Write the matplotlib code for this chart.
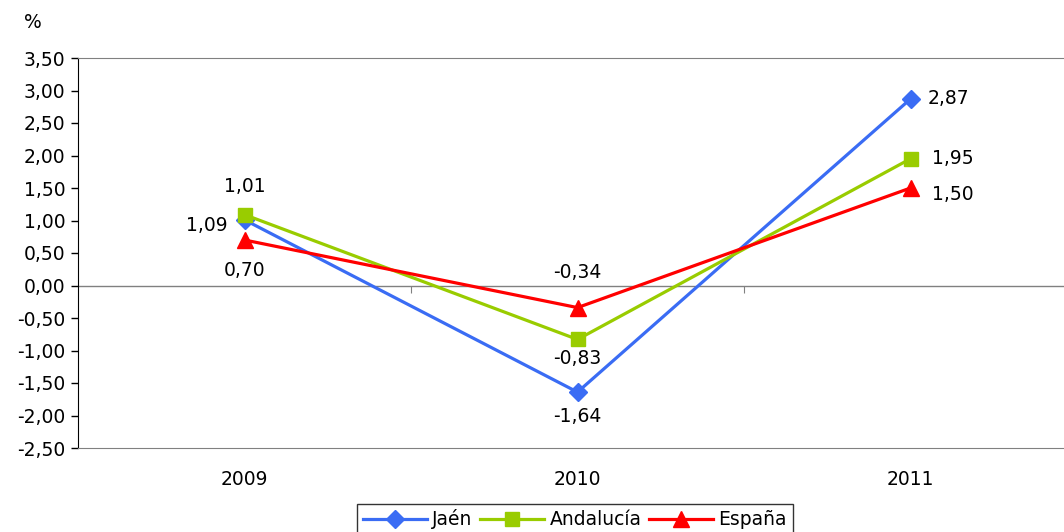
import matplotlib.pyplot as plt
from matplotlib.ticker import FuncFormatter

# Data
years = ["2009", "2010", "2011"]
jaen = [1.01, -1.64, 2.87]
andalucia = [1.09, -0.83, 1.95]
espana = [0.70, -0.34, 1.50]

# label offsets in pixels (dx, dy), tuned to the reference
jaen_off = [(0, 33), (0, -24), (38, 0)]
anda_off = [(-38, -11), (0, -19), (42, 0)]
esp_off = [(0, -30), (0, 35), (42, -6)]

plt.rcParams['font.family'] = ['DejaVu Sans']
FS = 13.5

fig = plt.figure(figsize=(10.64, 5.32), dpi=100)
ax = fig.add_axes([78 / 1064, 1 - 448 / 532, 999 / 1064, 390 / 532])

x = range(len(years))
series = [
    ("Jaén", jaen, "#3a6cf4", "D", 9, jaen_off),
    ("Andalucía", andalucia, "#99cc00", "s", 10, anda_off),
    ("España", espana, "#ff0000", "^", 11, esp_off),
]

for name, vals, col, mk, ms, offs in series:
    ax.plot(x, vals, color=col, lw=2.3, marker=mk, markersize=ms,
            markeredgecolor=col, label=name, zorder=3)
    for xi, v, (dx, dy) in zip(x, vals, offs):
        ax.annotate(f"{v:.2f}".replace(".", ","), (xi, v), xytext=(dx, dy),
                    textcoords="offset pixels", ha="center", va="center",
                    fontsize=FS)

ax.set_xlim(-0.5, 2.5)
ax.set_ylim(-2.5, 3.5)
ax.set_yticks([i * 0.5 for i in range(-5, 8)])
ax.yaxis.set_major_formatter(FuncFormatter(lambda v, p: f"{v:.2f}".replace(".", ",")))
ax.tick_params(axis="y", direction="out", length=5, width=1, labelsize=FS, pad=4)
ax.set_xticks(list(x))
ax.set_xticklabels(years)
ax.tick_params(axis="x", length=0, labelsize=FS, pad=16)

for s in ["top", "right", "bottom"]:
    ax.spines[s].set_color("#808080")
ax.spines["left"].set_color("black")

# zero line with category separator ticks
ax.axhline(0, color="#808080", lw=1, zorder=1)
sec = ax.secondary_xaxis(2.5 / 6)
sec.set_xticks([0.5, 1.5])
sec.set_xticklabels([])
sec.tick_params(direction="out", length=5, color="#808080")
sec.spines["bottom"].set_visible(False)

fig.text(33 / 1064, 1 - 22 / 532, "%", fontsize=FS, ha="center", va="center")

leg = fig.legend(loc="upper center", bbox_to_anchor=(575 / 1064, 1 - 500 / 532),
                 ncol=3, frameon=True, fancybox=False, fontsize=FS,
                 handlelength=3.4, columnspacing=0.4, handletextpad=0.3,
                 borderpad=0.3, borderaxespad=0.2, edgecolor="black")
leg.get_frame().set_linewidth(1)

fig.savefig("out.png", dpi=100)
